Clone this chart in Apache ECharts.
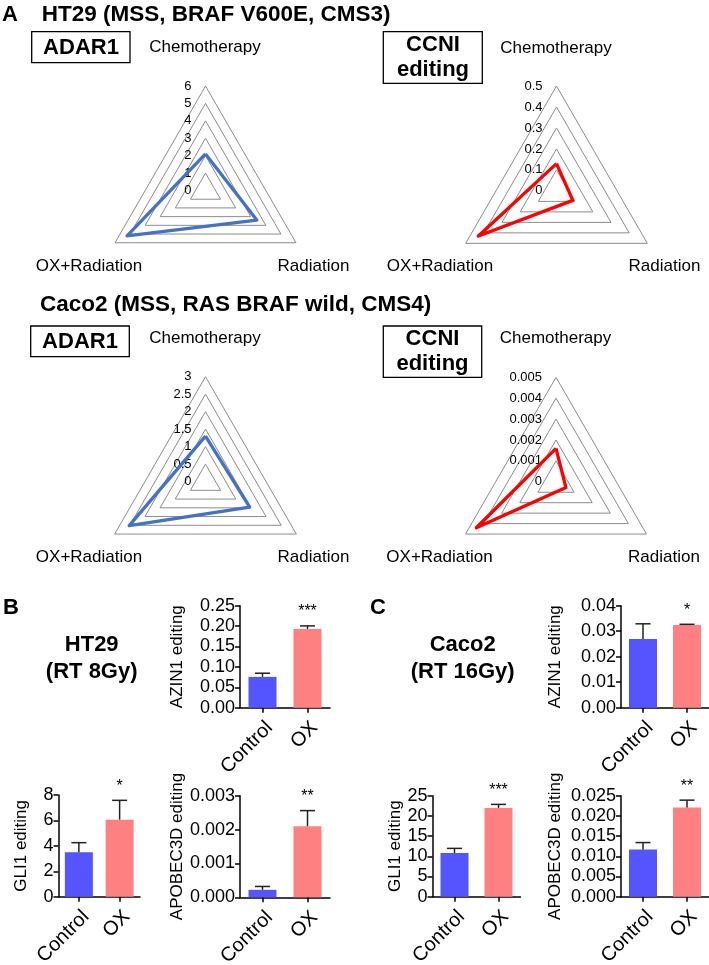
<!DOCTYPE html>
<html>
<head>
<meta charset="utf-8">
<script src="https://cdn.jsdelivr.net/npm/echarts@6/dist/echarts.min.js"></script>
<style>
html, body { margin: 0; padding: 0; background: #fff; }
#main { width: 709px; height: 965px; }
</style>
</head>
<body>
<div id="main"></div>
<script>
// radar panels (A)
var radarAxes = ['Chemotherapy', 'OX+Radiation', 'Radiation'];
var ht29Adar1 = [2.1, 5.2, 3.4];
var ht29Ccni = [0.13, 0.43, 0.09];
var caco2Adar1 = [1.3, 2.52, 1.46];
var caco2Ccni = [0.0016, 0.0044, 0.00055];
var radarMax = [6, 0.5, 3, 0.005];
var radarStep = [1, 0.1, 0.5, 0.001];

// bar panels (B, C)
var groups = ['Control', 'OX'];
var ht29Azin1 = [0.0755, 0.193], ht29Azin1Sem = [0.009, 0.0075];
var ht29Gli1 = [3.49, 6.06], ht29Gli1Sem = [0.76, 1.52];
var ht29Apobec = [0.00022, 0.0021], ht29ApobecSem = [0.0001, 0.00046];
var caco2Azin1 = [0.0269, 0.0324], caco2Azin1Sem = [0.006, 0.0003];
var caco2Gli1 = [10.8, 21.95], caco2Gli1Sem = [1.16, 0.9];
var caco2Apobec = [0.0117, 0.0221], caco2ApobecSem = [0.0017, 0.0018];
var ht29Stars = ['***', '*', '**'];
var caco2Stars = ['*', '***', '**'];

var FONT = '"Liberation Sans", Arial, Helvetica, sans-serif';
var groupColors = ['#5555FF', '#FF8080'];

var chart = echarts.init(document.getElementById('main'), null, { renderer: 'canvas' });

var radars = [
  { c: [205.5, 190.5], r: 104.5, data: ht29Adar1, color: '#4472C4' },
  { c: [556.5, 190.9], r: 104.9, data: ht29Ccni, color: '#FF0000' },
  { c: [205.5, 481.6], r: 104.9, data: caco2Adar1, color: '#4472C4' },
  { c: [556, 481.8], r: 104.5, data: caco2Ccni, color: '#FF0000' }
];

var barPanels = [
  { g: { left: 240, top: 605.7, width: 90, height: 102 }, name: 'AZIN1 editing', max: 0.25, step: 0.05, dec: 2, mean: ht29Azin1, sem: ht29Azin1Sem, star: ht29Stars[0], gap: 54.5 },
  { g: { left: 58.5, top: 795, width: 81.5, height: 101.7 }, name: 'GLI1 editing', max: 8, step: 2, dec: 0, mean: ht29Gli1, sem: ht29Gli1Sem, star: ht29Stars[1], gap: 28.5 },
  { g: { left: 240, top: 795.7, width: 90, height: 101.6 }, name: 'APOBEC3D editing', max: 0.003, step: 0.001, dec: 3, mean: ht29Apobec, sem: ht29ApobecSem, star: ht29Stars[2], gap: 54.5 },
  { g: { left: 621, top: 605.7, width: 88, height: 102 }, name: 'AZIN1 editing', max: 0.04, step: 0.01, dec: 2, mean: caco2Azin1, sem: caco2Azin1Sem, star: caco2Stars[0], gap: 57.5 },
  { g: { left: 432.5, top: 795.7, width: 88, height: 101 }, name: 'GLI1 editing', max: 25, step: 5, dec: 0, mean: caco2Gli1, sem: caco2Gli1Sem, star: caco2Stars[1], gap: 29 },
  { g: { left: 621, top: 795.7, width: 88, height: 101 }, name: 'APOBEC3D editing', max: 0.025, step: 0.005, dec: 3, mean: caco2Apobec, sem: caco2ApobecSem, star: caco2Stars[2], gap: 57.5 }
];

function txt(x, y, s, size, bold, align) {
  return {
    type: 'text', z: 10,
    style: {
      x: x, y: y, text: s, fill: '#000',
      font: (bold ? 'bold ' : '') + size + 'px ' + FONT,
      textAlign: align || 'center', textVerticalAlign: 'middle', lineHeight: 25
    }
  };
}
function box(x, y, w, h) {
  return { type: 'rect', shape: { x: x, y: y, width: w, height: h }, style: { fill: 'none', stroke: '#000', lineWidth: 1.3 } };
}

var radarOpt = [], grids = [], xAxes = [], yAxes = [], series = [];
var graphics = [
  txt(2, 15, 'A', 22, true, 'left'),
  txt(41.7, 15, 'HT29 (MSS, BRAF V600E, CMS3)', 22.5, true, 'left'),
  txt(40, 305, 'Caco2 (MSS, RAS BRAF wild, CMS4)', 22.5, true, 'left'),
  box(31.7, 31.7, 98.3, 31), txt(81, 47.5, 'ADAR1', 22, true),
  box(383.3, 31.7, 99, 51.6), txt(433, 57.5, 'CCNI\nediting', 22, true),
  box(30.7, 326, 98.6, 30.7), txt(80, 341.5, 'ADAR1', 22, true),
  box(383.3, 326, 98.4, 51.3), txt(432.5, 351, 'CCNI\nediting', 22, true),
  txt(3, 608, 'B', 22, true, 'left'),
  txt(370, 608, 'C', 22, true, 'left'),
  txt(91.7, 645, 'HT29', 22, true), txt(91.7, 671.7, '(RT 8Gy)', 22, true),
  txt(462.7, 645, 'Caco2', 22, true), txt(462.7, 671.7, '(RT 16Gy)', 22, true)
];

radars.forEach(function (rd, i) {
  radarOpt.push({
    center: rd.c, radius: rd.r, startAngle: 90, shape: 'polygon',
    splitNumber: Math.round(radarMax[i] / radarStep[i]),
    indicator: radarAxes.map(function (n) { return { name: n, min: 0, max: radarMax[i] }; }),
    axisName: { show: false },
    axisLine: { show: false },
    splitLine: { lineStyle: { color: '#8c8c8c', width: 1 } },
    splitArea: { show: false }
  });
  series.push({
    type: 'radar', radarIndex: i, symbol: 'none', z: 5,
    lineStyle: { color: rd.color, width: 3.3 },
    itemStyle: { color: rd.color },
    data: [{ value: rd.data, name: 'r' + i }]
  });
  // tick labels on the Chemotherapy axis, via a hidden value axis
  grids.push({ left: rd.c[0], top: rd.c[1] - rd.r, width: 1, height: rd.r, outerBoundsMode: 'none' });
  xAxes.push({ gridIndex: i, type: 'value', show: false });
  yAxes.push({
    gridIndex: i, type: 'value', min: 0, max: radarMax[i], interval: radarStep[i],
    axisLine: { show: false }, axisTick: { show: false }, splitLine: { show: false },
    axisLabel: { margin: 14, fontSize: 13, color: '#000', fontFamily: FONT }
  });
  graphics.push(
    txt(rd.c[0] - 0.5, rd.c[1] - 143, radarAxes[0], 17, false),
    txt(rd.c[0] - 116.5, rd.c[1] + 75.5, radarAxes[1], 17, false),
    txt(rd.c[0] + 108, rd.c[1] + 75.5, radarAxes[2], 17, false)
  );
});

function errRender(star) {
  return function (params, api) {
    var i = api.value(0), m = api.value(1), s = api.value(2);
    var p0 = api.coord([i, m]);
    var p1 = api.coord([i, m + s]);
    var st = { stroke: '#222', lineWidth: 1.5 };
    var kids = [
      { type: 'line', shape: { x1: p0[0], y1: p0[1], x2: p1[0], y2: p1[1] }, style: st },
      { type: 'line', shape: { x1: p1[0] - 7.5, y1: p1[1], x2: p1[0] + 7.5, y2: p1[1] }, style: st }
    ];
    if (params.dataIndex === 1) {
      kids.push({ type: 'text', style: { x: p1[0], y: p1[1] - 6, text: star, textAlign: 'center', textVerticalAlign: 'bottom', font: '16px ' + FONT, fill: '#000' } });
    }
    return { type: 'group', children: kids };
  };
}

barPanels.forEach(function (p, j) {
  var k = j + 4;
  var g = Object.assign({ outerBoundsMode: 'none' }, p.g);
  grids.push(g);
  var line = { show: true, lineStyle: { color: '#000', width: 1.5 } };
  xAxes.push({
    gridIndex: k, type: 'category', data: groups,
    axisLine: line,
    axisTick: { show: true, alignWithLabel: true, length: 5, lineStyle: { color: '#000', width: 1.5 } },
    axisLabel: { rotate: 45, fontSize: 20, margin: 10, verticalAlign: 'top', color: '#000', interval: 0, fontFamily: FONT }
  });
  yAxes.push({
    gridIndex: k, type: 'value', min: 0, max: p.max, interval: p.step,
    name: p.name, nameLocation: 'middle', nameGap: p.gap,
    nameTextStyle: { fontSize: 17, color: '#000', fontFamily: FONT },
    axisLine: line,
    axisTick: { show: true, length: 5, lineStyle: { color: '#000', width: 1.5 } },
    splitLine: { show: false },
    axisLabel: { fontSize: 18, margin: 5, color: '#000', fontFamily: FONT, formatter: function (v) { return v.toFixed(p.dec); } }
  });
  series.push({
    type: 'bar', xAxisIndex: k, yAxisIndex: k, barWidth: 28, z: 2,
    data: p.mean.map(function (v, i) { return { value: v, itemStyle: { color: groupColors[i] } }; })
  });
  series.push({
    type: 'custom', xAxisIndex: k, yAxisIndex: k, clip: false, z: 3,
    data: p.mean.map(function (v, i) { return [i, v, p.sem[i]]; }),
    renderItem: errRender(p.star)
  });
});

chart.setOption({
  backgroundColor: '#ffffff',
  animation: false,
  textStyle: { fontFamily: FONT },
  radar: radarOpt,
  grid: grids,
  xAxis: xAxes,
  yAxis: yAxes,
  series: series,
  graphic: graphics
});
</script>
</body>
</html>
